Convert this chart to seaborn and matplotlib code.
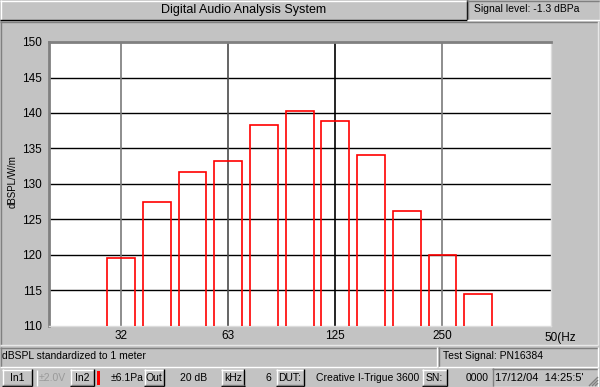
import matplotlib
matplotlib.use("Agg")
import matplotlib.pyplot as plt
from matplotlib.patches import Rectangle
from matplotlib.lines import Line2D
import seaborn as sns

# ---- data ----
bands = ['31.5', '40', '50', '63', '80', '100', '125', '160', '200', '250', '315']
levels = [119.6, 127.4, 131.7, 133.2, 138.3, 140.3, 138.9, 134.1, 126.2, 120.0, 114.5]
yticks = [110, 115, 120, 125, 130, 135, 140, 145, 150]
xtick_pos = [0, 3, 6, 9]
xtick_labels = ['32', '63', '125', '250']
last_label = '50(Hz'
title = 'Digital Audio Analysis System'
signal_text = 'Signal level: -1.3 dBPa'
ylabel = 'dBSPL/W/m'
status_left = 'dBSPL standardized to 1 meter'
status_right = 'Test Signal: PN16384'

W, H = 600, 387
BG = '#c3c3c3'
FONT = ['Liberation Sans', 'DejaVu Sans']

sns.set_theme(style='white')
plt.rcParams['font.family'] = FONT

fig = plt.figure(figsize=(6, 3.87), dpi=100, facecolor=BG)


def fx(x):
    return x / W


def fy(y):
    return 1 - y / H


def line(x0, y0, x1, y1, color, lw=1.0):
    fig.add_artist(Line2D([fx(x0), fx(x1)], [fy(y0), fy(y1)],
                          transform=fig.transFigure, color=color, lw=lw,
                          solid_capstyle='butt'))


def box(x0, y0, x1, y1, raised=True, face=None, dark='#808080', light='#ffffff'):
    if face is not None:
        fig.add_artist(Rectangle((fx(x0), fy(y1)), fx(x1) - fx(x0), fy(y0) - fy(y1),
                                 transform=fig.transFigure, facecolor=face,
                                 edgecolor='none'))
    tl, br = (light, dark) if raised else (dark, light)
    line(x0, y0 + 0.5, x1, y0 + 0.5, tl)
    line(x0 + 0.5, y0, x0 + 0.5, y1, tl)
    line(x0, y1 - 0.5, x1, y1 - 0.5, br)
    line(x1 - 0.5, y0, x1 - 0.5, y1, br)


def button(x0, x1, label, y0=369, y1=386):
    box(x0, y0, x1, y1, raised=True, dark='#000000')
    line(x0 + 1, y1 - 1.5, x1 - 1, y1 - 1.5, '#808080')
    fig.text(fx((x0 + x1) / 2), fy((y0 + y1) / 2 + 0.5), label, ha='center',
             va='center', fontsize=7.5, color='black')


# ---- frame panels ----
box(0, 0, 467, 20, raised=True, dark='#000000')
fig.text(fx(244), fy(10), title, ha='center', va='center', fontsize=9, color='black')
box(467, 0, 600, 20, raised=False)
fig.text(fx(474), fy(9), signal_text, ha='left', va='center', fontsize=7.5, color='black')

box(0, 21, 598, 345, raised=False, light='#e8e8e8')

box(0, 347, 437, 367, raised=False)
fig.text(fx(2), fy(356), status_left, ha='left', va='center', fontsize=7.5, color='black')
box(438, 347, 598, 367, raised=False)
fig.text(fx(443), fy(356), status_right, ha='left', va='center', fontsize=7.5, color='black')

# bottom button row
button(2, 32, 'In1')
fig.text(fx(52), fy(378), '\u00b12.0V', ha='center', va='center', fontsize=7.5, color='#9a9a9a')
line(37, 370, 37, 386, '#ffffff')
button(70, 94, 'In2')
fig.add_artist(Rectangle((fx(97), fy(385)), fx(3), fy(371) - fy(385),
                         transform=fig.transFigure, facecolor='#ff0000', edgecolor='none'))
fig.text(fx(127), fy(378), '\u00b16.1Pa', ha='center', va='center', fontsize=7.5, color='black')
button(144, 164, 'Out')
fig.text(fx(207), fy(378), '20 dB', ha='right', va='center', fontsize=7.5, color='black')
button(221, 245, 'kHz')
fig.text(fx(271), fy(378), '6', ha='right', va='center', fontsize=7.5, color='black')
button(276, 304, 'DUT:')
fig.text(fx(316), fy(378), 'Creative I-Trigue 3600', ha='left', va='center', fontsize=7.5, color='black')
button(422, 447, 'SN:')
fig.text(fx(489), fy(378), '0000', ha='right', va='center', fontsize=7.5, color='black')
box(492, 368, 598, 387, raised=False)
fig.text(fx(495), fy(378), "17/12/04  14:25:5'", ha='left', va='center', fontsize=8, color='black')
for k in range(3):
    line(598 - 3 * k - 3, 386, 598, 386 - 3 * k - 3, '#808080')

# ---- chart axes ----
left, right, top, bottom = 49, 551, 42, 326
ax = fig.add_axes([fx(left), fy(bottom), fx(right) - fx(left), fy(top) - fy(bottom)])
ax.set_facecolor('white')

for yv in yticks[1:-1]:
    ax.axhline(yv, color='black', lw=1.0, zorder=1)
vcolors = ['#7a7a7a', '#4a4a4a', '#000000', '#7a7a7a']
for xp, c in zip(xtick_pos, vcolors):
    ax.axvline(xp, color=c, lw=1.2, zorder=1)

sns.barplot(x=bands, y=levels, ax=ax, fill=False, color='#ff0000',
            width=0.78, linewidth=1.2, zorder=3)

ax.set_ylim(110, 150)
ax.set_xlim(-2.02, 12.04)
ax.set_yticks(yticks)
ax.set_yticklabels([str(v) for v in yticks], fontsize=8.5, color='black')
ax.set_xticks(xtick_pos)
ax.set_xticklabels(xtick_labels, fontsize=8.5, color='black')
ax.tick_params(axis='both', length=0, pad=3)
ax.tick_params(axis='y', pad=5)
ax.set_xlabel('')
ax.set_ylabel(ylabel, fontsize=7, color='black')
ax.yaxis.set_label_coords(-0.062, 0.51)
ax.text(12.3, -0.022, last_label, transform=ax.get_xaxis_transform(),
        ha='center', va='top', fontsize=8.5, color='black', clip_on=False)

ax.spines['left'].set_color('#808080')
ax.spines['top'].set_color('#808080')
ax.spines['left'].set_linewidth(2)
ax.spines['top'].set_linewidth(2)
ax.spines['right'].set_color('#dcdcdc')
ax.spines['bottom'].set_color('#dcdcdc')
ax.spines['right'].set_linewidth(1)
ax.spines['bottom'].set_linewidth(1)

fig.savefig('out.png', dpi=100, facecolor=BG)
